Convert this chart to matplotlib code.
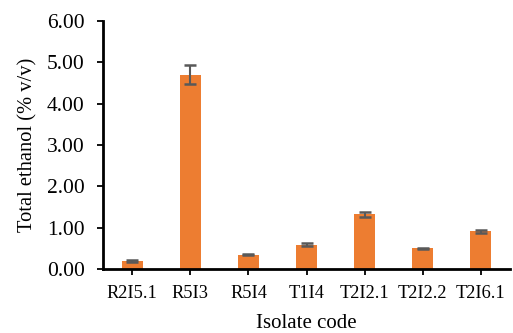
import matplotlib.pyplot as plt
import numpy as np

plt.rcParams['font.family'] = ['Liberation Serif', 'DejaVu Serif']

isolats = ["R2I5.1", "R5I3", "R5I4", "T1I4", "T2I2.1", "T2I2.2", "T2I6.1"]
ethanol = [0.19, 4.70, 0.35, 0.59, 1.33, 0.50, 0.91]
ecart = [0.02, 0.23, 0.02, 0.03, 0.06, 0.02, 0.04]

fig = plt.figure(figsize=(5.13, 3.33), dpi=100)
ax = fig.add_axes([0.201, 0.192, 0.793, 0.745])

x = np.arange(len(isolats))
ax.bar(x, ethanol, width=0.36, color="#ED7D31", zorder=2)
ax.errorbar(x, ethanol, yerr=ecart, fmt="none", ecolor="#595959",
            elinewidth=1.5, capsize=4.6, capthick=1.8, zorder=3)

ax.set_xlim(-0.5, len(isolats) - 0.5)
ax.set_ylim(0, 6)
ax.set_yticks(np.arange(0, 6.01, 1))
ax.set_yticklabels([f"{v:.2f}" for v in np.arange(0, 6.01, 1)])
ax.set_xticks(x)
ax.set_xticklabels(isolats)

ax.tick_params(axis="x", direction="out", length=4.3, width=1.3, pad=7, labelsize=13.2)
ax.tick_params(axis="y", direction="out", length=4.3, width=1.3, labelsize=15.5, pad=9)

for s in ["top", "right"]:
    ax.spines[s].set_visible(False)
ax.spines["left"].set_linewidth(2)
ax.spines["bottom"].set_linewidth(2)

ax.set_xlabel("Isolate code", fontsize=15, labelpad=8.5)
ax.set_ylabel("Total ethanol (% v/v)", fontsize=14.8, labelpad=7)

fig.savefig("out.png", dpi=100)
